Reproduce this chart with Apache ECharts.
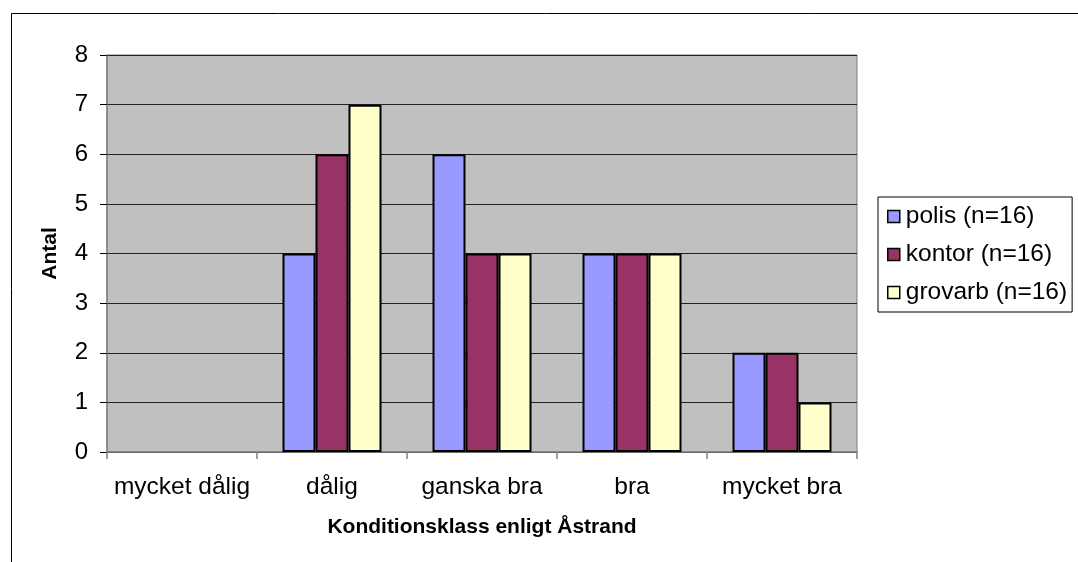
<!DOCTYPE html>
<html>
<head>
<meta charset="utf-8">
<script src="https://cdn.jsdelivr.net/npm/echarts@6/dist/echarts.min.js"></script>
<style>
html, body { margin: 0; padding: 0; background: #fff; }
#chart { width: 1078px; height: 562px; }
</style>
</head>
<body>
<div id="chart"></div>
<script>
// data
const categories = ['mycket dålig', 'dålig', 'ganska bra', 'bra', 'mycket bra']
const polis = [0, 4, 6, 4, 2]
const kontor = [0, 6, 4, 4, 2]
const grovarb = [0, 7, 4, 4, 1]
const seriesNames = ['polis (n=16)', 'kontor (n=16)', 'grovarb (n=16)']
const colors = ['#9999FF', '#993366', '#FFFFCC']

const font = '"Liberation Sans", Arial, sans-serif'

let Mycharts = echarts.init(document.getElementById('chart'))

const makeSeries = (name, data, color) => ({
    name: name,
    type: 'bar',
    // zero bars get no outline (nothing is drawn in the original)
    data: data.map(v => v === 0 ? { value: v, itemStyle: { borderWidth: 0 } } : v),
    barGap: '0%',
    barCategoryGap: '34%',
    itemStyle: {
        color: color,
        borderColor: '#000',
        borderWidth: 2
    }
})

let option = {
    animation: false,
    textStyle: { fontFamily: font },
    graphic: [{
        type: 'rect',
        shape: { x: 11.5, y: 13.5, width: 1100, height: 600 },
        style: { fill: 'none', stroke: '#000', lineWidth: 1 },
        silent: true
    }],
    grid: {
        left: 107,
        top: 55,
        right: 221,
        bottom: 110,
        show: true,
        backgroundColor: '#C0C0C0',
        borderColor: '#808080',
        borderWidth: 1
    },
    legend: {
        orient: 'vertical',
        left: 878,
        top: 197,
        padding: [7, 5, 7, 9],
        itemWidth: 12,
        itemHeight: 12,
        itemGap: 13,
        borderColor: '#000',
        borderWidth: 1,
        backgroundColor: '#fff',
        icon: 'rect',
        itemStyle: { borderColor: '#000', borderWidth: 1.5 },
        textStyle: { fontSize: 24.5, color: '#000', fontFamily: font, padding: [0, 0, 0, 1] },
        data: seriesNames
    },
    xAxis: {
        type: 'category',
        data: categories,
        name: 'Konditionsklass enligt Åstrand',
        nameLocation: 'middle',
        nameGap: 65,
        nameTextStyle: { fontSize: 21, fontWeight: 'bold', color: '#000', fontFamily: font },
        axisLine: { show: true, lineStyle: { color: '#808080', width: 1.5 } },
        axisTick: { show: true, interval: 0, length: 7, lineStyle: { color: '#808080', width: 1.5 } },
        axisLabel: { interval: 0, hideOverlap: false, fontSize: 24.5, color: '#000', margin: 23, fontFamily: font },
        splitLine: { show: false }
    },
    yAxis: {
        type: 'value',
        min: 0,
        max: 8,
        interval: 1,
        name: 'Antal',
        nameLocation: 'middle',
        nameGap: 46,
        nameTextStyle: { fontSize: 21, fontWeight: 'bold', color: '#000', fontFamily: font },
        axisLine: { show: true, lineStyle: { color: '#808080', width: 1.5 } },
        axisTick: { show: true, length: 7, lineStyle: { color: '#000' } },
        axisLabel: { fontSize: 24, color: '#000', margin: 19, fontFamily: font },
        splitLine: { show: true, lineStyle: { color: '#222', width: 1 } }
    },
    series: [
        makeSeries(seriesNames[0], polis, colors[0]),
        makeSeries(seriesNames[1], kontor, colors[1]),
        makeSeries(seriesNames[2], grovarb, colors[2])
    ]
}

Mycharts.setOption(option)
</script>
</body>
</html>
